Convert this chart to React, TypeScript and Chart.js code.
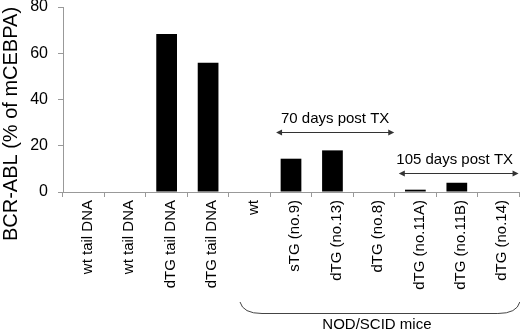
import React, { useEffect, useRef } from "react";
import { Chart, registerables } from "chart.js";
Chart.register(...registerables);

const categories = [
  "wt tail DNA",
  "wt tail DNA",
  "dTG tail DNA",
  "dTG tail DNA",
  "wt",
  "sTG (no.9)",
  "dTG (no.13)",
  "dTG (no.8)",
  "dTG (no.11A)",
  "dTG (no.11B)",
  "dTG (no.14)",
];
const values = [0, 0, 68.3, 55.9, 0, 14.4, 18, 0, 1, 4, 0];
const yTicks = [0, 20, 40, 60, 80];
const yTitle = "BCR-ABL (% of mCEBPA)";
const annotation70 = "70 days post TX";
const annotation105 = "105 days post TX";
const groupLabel = "NOD/SCID mice";

const FONT = '"Liberation Sans", Arial, Helvetica, sans-serif';

function arrow(ctx: CanvasRenderingContext2D, x1: number, x2: number, y: number) {
  ctx.beginPath();
  ctx.moveTo(x1 + 4, y);
  ctx.lineTo(x2 - 4, y);
  ctx.stroke();
  const h = 6, w = 3;
  ctx.beginPath();
  ctx.moveTo(x1, y);
  ctx.lineTo(x1 + h, y - w);
  ctx.lineTo(x1 + h, y + w);
  ctx.closePath();
  ctx.fill();
  ctx.beginPath();
  ctx.moveTo(x2, y);
  ctx.lineTo(x2 - h, y - w);
  ctx.lineTo(x2 - h, y + w);
  ctx.closePath();
  ctx.fill();
}

const annotationPlugin = {
  id: "annotations",
  afterDraw(chart: any) {
    const ctx: CanvasRenderingContext2D = chart.ctx;
    const x = chart.scales.x;
    const y = chart.scales.y;
    const bottom = chart.chartArea.bottom;
    ctx.save();
    ctx.fillStyle = "#000";
    ctx.strokeStyle = "#333";
    ctx.lineWidth = 1;

    // y title
    ctx.save();
    ctx.translate(11, 124);
    ctx.rotate(-Math.PI / 2);
    ctx.font = "20px " + FONT;
    ctx.textAlign = "center";
    ctx.textBaseline = "middle";
    ctx.fillText(yTitle, 0, 0);
    ctx.restore();

    // 70 days arrow
    ctx.font = "15px " + FONT;
    ctx.textBaseline = "alphabetic";
    ctx.textAlign = "center";
    const a1l = x.getPixelForValue(4.64);
    const a1r = x.getPixelForValue(7.49);
    ctx.fillStyle = "#000";
    ctx.fillText(annotation70, (a1l + a1r) / 2, y.getPixelForValue(30));
    ctx.fillStyle = "#333";
    arrow(ctx, a1l, a1r, Math.round(y.getPixelForValue(26)) + 0.5);

    // 105 days arrow
    const a2l = x.getPixelForValue(7.6);
    const a2r = x.getPixelForValue(10.49);
    ctx.fillStyle = "#000";
    ctx.fillText(annotation105, (a2l + a2r) / 2 - 4, y.getPixelForValue(11.9));
    ctx.fillStyle = "#333";
    arrow(ctx, a2l, a2r, Math.round(y.getPixelForValue(8.2)) + 0.5);

    // bracket
    const bl = x.getPixelForValue(3.77);
    const br = x.getPixelForValue(10.52);
    const by = bottom + 121.5;
    ctx.strokeStyle = "#444";
    ctx.beginPath();
    ctx.moveTo(bl, bottom + 110);
    ctx.quadraticCurveTo(bl + 3, by, bl + 22, by);
    ctx.lineTo(br - 22, by);
    ctx.quadraticCurveTo(br - 3, by, br, bottom + 110);
    ctx.stroke();
    ctx.fillStyle = "#000";
    ctx.textAlign = "center";
    ctx.fillText(groupLabel, (bl + br) / 2 - 3, bottom + 137);
    ctx.restore();
  },
};

export default function App() {
  const ref = useRef<HTMLCanvasElement>(null);
  useEffect(() => {
    if (!ref.current) return;
    const chart = new Chart(ref.current, {
      type: "bar",
      data: {
        labels: categories,
        datasets: [
          {
            data: values,
            backgroundColor: "#000",
            borderWidth: 0,
            barPercentage: 0.5,
            categoryPercentage: 1,
          },
        ],
      },
      options: {
        responsive: false,
        animation: false,
        layout: { padding: { top: 7, right: 1, left: 0, bottom: 0 } },
        plugins: { legend: { display: false }, tooltip: { enabled: false } },
        scales: {
          x: {
            offset: true,
            grid: {
              offset: true,
              drawOnChartArea: false,
              drawTicks: true,
              tickLength: 5,
              color: "#999",
            },
            border: { color: "#999", width: 1 },
            ticks: {
              minRotation: 90,
              maxRotation: 90,
              autoSkip: false,
              padding: 3,
              labelOffset: 4,
              color: "#000",
              font: { family: FONT, size: 15 },
            },
            afterFit(scale: any) {
              scale.height = 139;
              scale.paddingTop = 0;
              scale.paddingBottom = 0;
            },
          },
          y: {
            min: 0,
            max: 80,
            afterBuildTicks(scale: any) {
              scale.ticks = yTicks.map((v) => ({ value: v }));
            },
            grid: {
              drawOnChartArea: false,
              drawTicks: true,
              tickLength: 5,
              color: "#999",
            },
            border: { color: "#999", width: 1 },
            ticks: {
              padding: 10,
              color: "#000",
              font: { family: FONT, size: 16 },
            },
            afterFit(scale: any) {
              scale.width = 63;
              scale.paddingTop = 0;
              scale.paddingBottom = 0;
            },
          },
        },
      },
      plugins: [annotationPlugin],
    });
    return () => chart.destroy();
  }, []);
  return (
    <div style={{ position: "fixed", left: 0, top: 0, width: 520, height: 331, background: "#fff" }}>
      <canvas ref={ref} width={520} height={331} />
    </div>
  );
}
